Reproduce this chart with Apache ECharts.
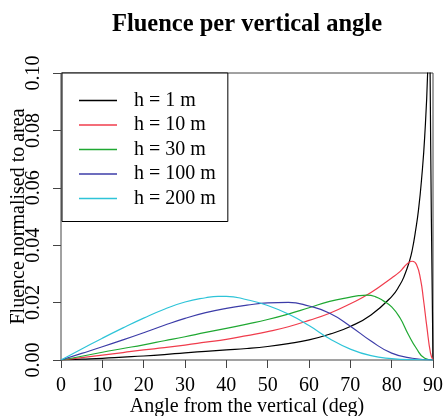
<!DOCTYPE html>
<html>
<head>
<meta charset="utf-8">
<script src="https://cdn.jsdelivr.net/npm/echarts/dist/echarts.min.js"></script>
<style>
  html, body { margin: 0; padding: 0; background: #fff; }
  #chart { width: 445px; height: 416px; }
</style>
</head>
<body>
<div id="chart"></div>
<script>
// angles (deg) and fluence values, one pair of arrays per height
var angH1 = [0, 5, 10, 15, 20, 25, 30, 35, 40, 45, 50, 55, 60, 65, 70, 75, 80, 82, 83, 84.3, 85, 85.7, 86.5, 87.3, 88, 88.7, 89.0, 89.15, 89.3, 89.6, 90];
var fluH1 = [0, 0.0003, 0.0006, 0.0010, 0.0014, 0.0019, 0.0025, 0.0030, 0.0035, 0.0040, 0.0047, 0.0057, 0.0070, 0.0090, 0.0117, 0.0157, 0.0221, 0.0262, 0.0291, 0.0344, 0.0385, 0.0443, 0.0524, 0.0641, 0.0780, 0.1000, 0.1250, 0.1300, 0.1000, 0.0500, 0];

var angH10 = [0, 5, 10, 15, 20, 25, 30, 35, 40, 45, 50, 55, 60, 65, 70, 75, 80, 82, 83, 84, 85, 86, 87, 87.7, 88.5, 89.4, 90];
var fluH10 = [0, 0.0008, 0.0017, 0.0026, 0.0035, 0.0043, 0.0052, 0.0062, 0.0072, 0.0085, 0.0099, 0.0116, 0.0138, 0.0163, 0.0196, 0.0235, 0.0286, 0.0308, 0.0324, 0.0338, 0.0344, 0.0333, 0.0280, 0.0210, 0.0117, 0.0024, 0];

var angH30 = [0, 5, 10, 15, 20, 25, 30, 35, 40, 45, 50, 55, 60, 65, 70, 72, 74, 76, 78, 80, 82, 84, 86, 88, 90];
var fluH30 = [0, 0.0013, 0.0027, 0.0040, 0.0053, 0.0067, 0.0081, 0.0096, 0.0110, 0.0125, 0.0141, 0.0160, 0.0182, 0.0204, 0.0219, 0.0224, 0.0226, 0.0221, 0.0206, 0.0185, 0.0147, 0.0090, 0.0040, 0.0006, 0];

var angH100 = [0, 5, 10, 15, 20, 25, 30, 35, 40, 45, 50, 55, 60, 65, 70, 75, 80, 85, 90];
var fluH100 = [0, 0.0023, 0.0046, 0.0070, 0.0095, 0.0121, 0.0145, 0.0165, 0.0180, 0.0191, 0.0199, 0.0201, 0.0188, 0.0163, 0.0118, 0.0066, 0.0024, 0.0006, 0];

var angH200 = [0, 5, 10, 15, 20, 25, 30, 35, 38, 40, 45, 50, 55, 60, 65, 70, 75, 80, 85, 90];
var fluH200 = [0, 0.0038, 0.0076, 0.0112, 0.0146, 0.0177, 0.0202, 0.0217, 0.0222, 0.0222, 0.0210, 0.0190, 0.0160, 0.0120, 0.0074, 0.0038, 0.0015, 0.0005, 0.0001, 0];

var names = ["h = 1 m", "h = 10 m", "h = 30 m", "h = 100 m", "h = 200 m"];
var colors = ["#000000", "#f03c4c", "#1fa832", "#3c3ca8", "#2ec4d8"];

var serif = "Liberation Serif, DejaVu Serif, serif";

function makeSeries(i, ang, flu) {
  return {
    name: names[i],
    type: "line",
    symbol: "none",
    smooth: 0.5,
    clip: true,
    lineStyle: { color: colors[i], width: 1.2 },
    itemStyle: { color: colors[i] },
    data: ang.map(function(a, k) { return [a, flu[k]]; })
  };
}

var chart = echarts.init(document.getElementById("chart"));

var option = {
  animation: false,
  backgroundColor: "#fff",
  title: {
    text: "Fluence per vertical angle",
    left: 242,
    top: 7,
    textAlign: "center",
    textStyle: { fontFamily: serif, fontSize: 24.5, fontWeight: "bold", color: "#000" }
  },
  legend: {
    data: names,
    orient: "vertical",
    left: 62,
    top: 73,
    icon: "rect",
    itemWidth: 38,
    itemHeight: 1.5,
    itemGap: 4.5,
    padding: [17.5, 12, 13, 17],
    borderColor: "#000",
    borderWidth: 1,
    backgroundColor: "#fff",
    textStyle: { fontFamily: serif, fontSize: 20, lineHeight: 20, color: "#000", padding: [0, 0, 0, 12] }
  },
  grid: {
    left: 61,
    right: 12,
    top: 73,
    bottom: 56,
    outerBoundsMode: "none",
    containLabel: false,
    show: true,
    borderColor: "#444",
    borderWidth: 1
  },
  xAxis: {
    type: "value",
    min: 0,
    max: 90,
    interval: 10,
    name: "Angle from the vertical (deg)",
    nameLocation: "middle",
    nameGap: 37,
    nameMoveOverlap: false,
    nameTextStyle: { fontFamily: serif, fontSize: 20, color: "#000" },
    axisLine: { show: false },
    axisTick: { show: true, length: 8, lineStyle: { color: "#444" } },
    axisLabel: { fontFamily: serif, fontSize: 20, color: "#000", margin: 16 },
    splitLine: { show: false }
  },
  yAxis: {
    type: "value",
    min: 0,
    max: 0.1,
    interval: 0.02,
    name: "Fluence normalised to area",
    nameLocation: "middle",
    nameGap: 32,
    nameMoveOverlap: false,
    nameTextStyle: { fontFamily: serif, fontSize: 20, color: "#000" },
    axisLine: { show: false },
    axisTick: { show: true, length: 8, lineStyle: { color: "#444" } },
    axisLabel: {
      fontFamily: serif,
      fontSize: 20,
      color: "#000",
      rotate: 90,
      margin: 17,
      formatter: function(v) { return v.toFixed(2); }
    },
    splitLine: { show: false }
  },
  series: [
    makeSeries(0, angH1, fluH1),
    makeSeries(1, angH10, fluH10),
    makeSeries(2, angH30, fluH30),
    makeSeries(3, angH100, fluH100),
    makeSeries(4, angH200, fluH200)
  ]
};

chart.setOption(option);
</script>
</body>
</html>
